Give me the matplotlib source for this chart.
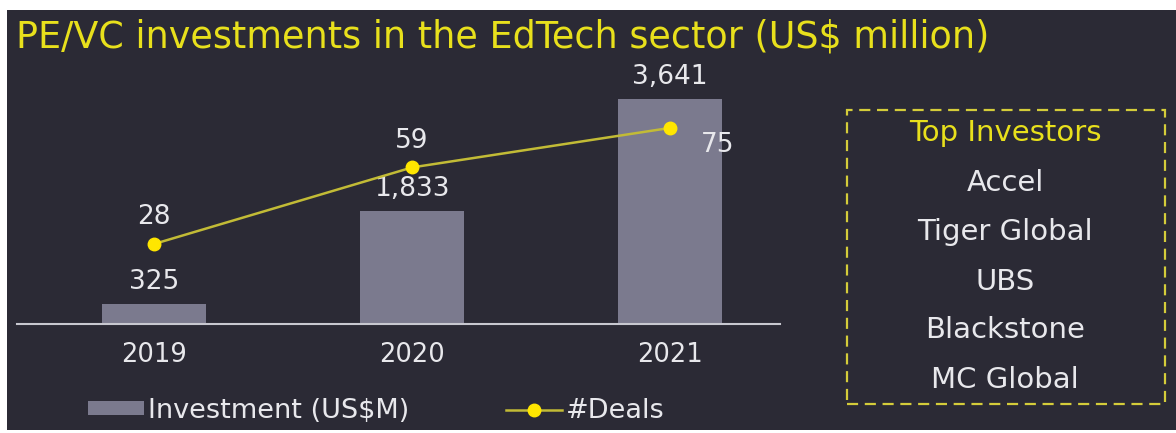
import matplotlib
matplotlib.use("Agg")
import matplotlib.pyplot as plt
from matplotlib.patches import Rectangle

years = ["2019", "2020", "2021"]
investment = [325, 1833, 3641]
deals = [28, 59, 75]
investment_labels = ["325", "1,833", "3,641"]
top_investors = ["Accel", "Tiger Global", "UBS", "Blackstone", "MC Global"]

BG = "#2b2a35"
BAR = "#7b7a8e"
YEL = "#e8e01c"
LINE = "#c2bb36"
TXT = "#e8e8ec"
FONT = "DejaVu Sans"

W, H = 1176, 433
fig = plt.figure(figsize=(W / 100, H / 100), dpi=100)
fig.patch.set_facecolor("white")
fig.add_artist(Rectangle((7 / W, 3 / H), 1 - 7 / W, 1 - 13 / H,
                         transform=fig.transFigure, facecolor=BG,
                         edgecolor="none", zorder=-10))

def px(x, y):
    return x / W, 1 - y / H

# title
fig.text(*px(16, 37), "PE/VC investments in the EdTech sector (US$ million)",
         fontsize=26.3, color=YEL, family=FONT, va="center", ha="left")

# axes
left, right, bottom, top = 17, 780, 324, 60
ax = fig.add_axes([left / W, (H - bottom) / H, (right - left) / W, (bottom - top) / H])
ax.set_facecolor("none")
x = list(range(len(years)))
bars = ax.bar(x, investment, width=0.4, color=BAR, zorder=2, label="Investment (US$M)")
ax.set_xlim(-0.531, 2.426)
ax.set_ylim(0, 4272)
for s in ["top", "right", "left"]:
    ax.spines[s].set_visible(False)
ax.spines["bottom"].set_color("#c8c8d0")
ax.spines["bottom"].set_linewidth(1.5)
ax.set_yticks([])
ax.set_xticks(x)
ax.set_xticklabels(years, fontsize=18.5, color=TXT, family=FONT)
ax.tick_params(axis="x", length=0, pad=13)
for xi, v, lab in zip(x, investment, investment_labels):
    ax.annotate(lab, (xi, v), xytext=(0, 16), textcoords="offset points",
                ha="center", va="center", fontsize=19, color=TXT, family=FONT)

ax2 = ax.twinx()
ax2.set_ylim(-4.4, 102.5)
ax2.set_yticks([])
for s in ax2.spines.values():
    s.set_visible(False)
line, = ax2.plot(x, deals, color=LINE, lw=1.8, marker="o", markersize=9,
                 markerfacecolor="#ffe600", markeredgecolor="#ffe600", zorder=3,
                 label="#Deals")
offsets = [(0, 19.5), (0, 19), (34.5, -12)]
for xi, v, off in zip(x, deals, offsets):
    ax2.annotate(str(v), (xi, v), xytext=off, textcoords="offset points",
                 ha="center", va="center", fontsize=19, color=TXT, family=FONT)

leg = fig.legend([bars, line], ["Investment (US$M)", "#Deals"], ncol=2,
                 loc="center left", bbox_to_anchor=px(88, 411), frameon=False,
                 prop={"family": FONT, "size": 19.5},
                 handlelength=2.05, handletextpad=0.15, columnspacing=3.6,
                 handleheight=0.4, labelcolor=TXT, borderpad=0, borderaxespad=0)

# top investors box
fig.add_artist(Rectangle(px(847, 404), (1165 - 847) / W, (404 - 110) / H,
                         transform=fig.transFigure, facecolor="none",
                         edgecolor="#d4cc3a", lw=1.6, linestyle=(0, (5, 3))))
fig.text(*px(1005, 133), "Top Investors", fontsize=21, color=YEL,
         family=FONT, ha="center", va="center")
ys = [183, 232, 282, 330, 380]
for name, yy in zip(top_investors, ys):
    fig.text(*px(1005, yy), name, fontsize=21, color=TXT,
             family=FONT, ha="center", va="center")

fig.savefig("out.png", dpi=100, facecolor=fig.get_facecolor())
